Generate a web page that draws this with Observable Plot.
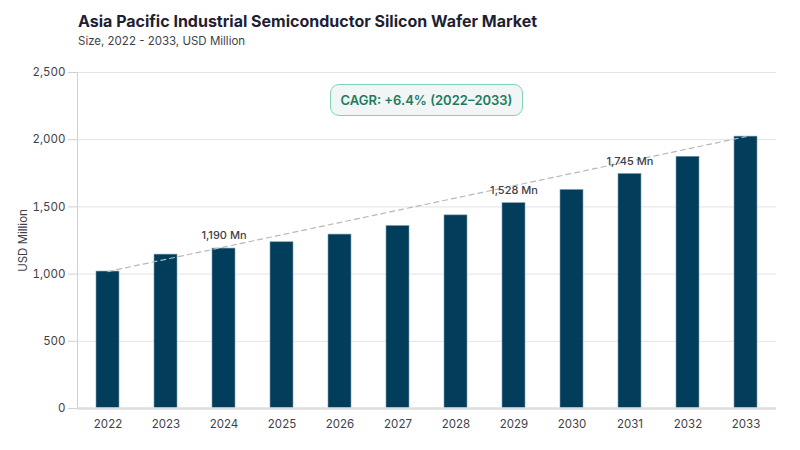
<!DOCTYPE html>
<html>
<head>
<meta charset="utf-8">
<script src="https://cdn.jsdelivr.net/npm/d3@7"></script>
<script src="https://cdn.jsdelivr.net/npm/@observablehq/plot@0.6"></script>
<style>
  html, body { margin: 0; padding: 0; background: #fff; }
  body { width: 800px; height: 450px; position: relative; overflow: hidden; font-family: Inter, "Noto Sans", sans-serif; }
  #head { height: 56px; box-sizing: border-box; padding-left: 78px; padding-top: 12px; }
  #title { font-size: 16px; font-weight: 700; color: #1e1f33; line-height: 19px; letter-spacing: 0px; }
  #subtitle { font-size: 11.5px; font-weight: 400; color: #3f3f4a; line-height: 16px; margin-top: 2px; }
  #cagr { position: absolute; left: 330px; top: 84px; width: 193px; height: 32px; box-sizing: border-box;
          border: 1.5px solid #7fd4bb; border-radius: 9px; background: #f1f5f5; color: #1f7a5f;
          font-size: 13px; font-weight: 600; display: flex; align-items: center; justify-content: center; }
</style>
</head>
<body>
<div id="head">
  <div id="title">Asia Pacific Industrial Semiconductor Silicon Wafer Market</div>
  <div id="subtitle">Size, 2022 - 2033, USD Million</div>
</div>
<div id="chart"></div>
<div id="cagr">CAGR: +6.4% (2022–2033)</div>
<script>
const years = ["2022","2023","2024","2025","2026","2027","2028","2029","2030","2031","2032","2033"];
const values = [1019, 1145, 1190, 1237, 1294, 1358, 1437, 1528, 1626, 1745, 1873, 2023];
const labeledYears = ["2024", "2029", "2031"];
const yTicks = [0, 500, 1000, 1500, 2000, 2500];

const data = years.map((y, i) => ({year: y, value: values[i]}));
const trend = [data[0], data[data.length - 1]];
const labeled = data.filter(d => labeledYears.includes(d.year));

const chart = Plot.plot({
  width: 800,
  height: 394,
  marginTop: 16,
  marginBottom: 42,
  marginLeft: 77,
  marginRight: 24,
  style: {fontFamily: "Inter, 'Noto Sans', sans-serif", fontSize: "11.5px", color: "#3f3f4a", background: "#fff"},
  x: {domain: years, paddingInner: 0.6, paddingOuter: 0.32},
  y: {domain: [0, 2500]},
  marks: [
    Plot.gridY(yTicks, {stroke: "#e4e4e4", strokeOpacity: 1, strokeWidth: 1}),
    Plot.frame({anchor: "left", stroke: "#d0d0d5"}),
    Plot.barY(data, {x: "year", y: "value", fill: "#023e5b", stroke: "#7e9fb1", strokeWidth: 0.6}),
    Plot.ruleY([0], {stroke: "#dcdce0", strokeWidth: 2.5}),
    Plot.line(trend, {x: "year", y: "value", stroke: "#b8b8b8", strokeWidth: 1.2, strokeDasharray: "5,4"}),
    Plot.text(labeled, {x: "year", y: "value", text: d => d3.format(",")(d.value) + " Mn", dy: -13, fill: "#3f3f4a", fontSize: 11, fontWeight: 500}),
    Plot.axisY({ticks: yTicks, tickFormat: d3.format(","), tickSize: 9, tickPadding: 3, stroke: "#cfcfd4", label: "USD Million", labelAnchor: "center", labelOffset: 59, labelArrow: "none", fill: "#3f3f4a", fontSize: 11.5}),
    Plot.axisX({tickSize: 0, tickPadding: 11, label: null, fill: "#3f3f4a", fontSize: 11.5})
  ]
});
document.getElementById("chart").appendChild(chart);
</script>
</body>
</html>
